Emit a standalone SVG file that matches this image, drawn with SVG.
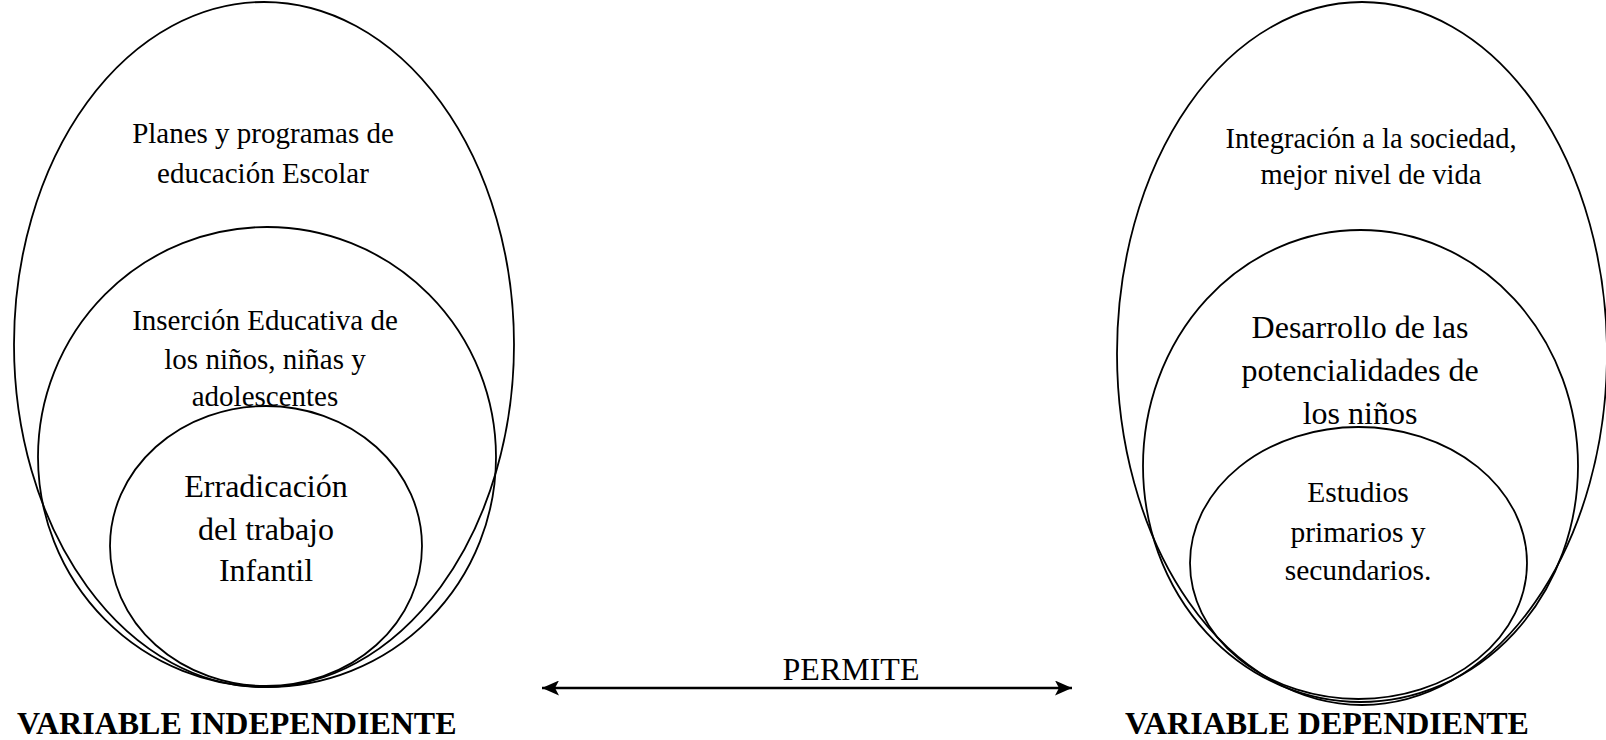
<svg xmlns="http://www.w3.org/2000/svg" width="1606" height="740" viewBox="0 0 1606 740">
<style>
.e{fill:none;stroke:#000;stroke-width:1.8}
.t{font-family:"Liberation Serif","Times New Roman",serif;fill:#000;text-anchor:middle}
.b{font-family:"Liberation Serif","Times New Roman",serif;fill:#000;font-weight:bold;font-size:32px}
</style>
<defs>
<marker id="ah" viewBox="0 0 17 15" refX="17" refY="7.5" markerWidth="17" markerHeight="15" markerUnits="userSpaceOnUse" orient="auto-start-reverse">
<path d="M0,0 L17,7.5 L0,15 L4,7.5 Z" fill="#000"/>
</marker>
</defs>
<rect width="1606" height="740" fill="#fff"/>
<g id="left-outer">
<ellipse class="e" cx="264" cy="344.5" rx="250" ry="342.5"/>
<text class="t" font-size="29" x="263" y="143">Planes y programas de</text>
<text class="t" font-size="29" x="263" y="183">educación Escolar</text>
</g>
<g id="left-middle">
<ellipse class="e" cx="267" cy="457" rx="229" ry="230"/>
<text class="t" font-size="29" x="265" y="330">Inserción Educativa de</text>
<text class="t" font-size="29" x="265" y="368.5">los niños, niñas y</text>
<text class="t" font-size="29" x="265" y="406">adolescentes</text>
</g>
<g id="left-inner">
<ellipse class="e" cx="266" cy="546" rx="156" ry="140"/>
<text class="t" font-size="32" x="266" y="497">Erradicación</text>
<text class="t" font-size="32" x="266" y="540">del trabajo</text>
<text class="t" font-size="32" x="266" y="581">Infantil</text>
</g>
<g id="right-outer">
<ellipse class="e" cx="1362" cy="353.5" rx="245" ry="351.5"/>
<text class="t" font-size="28.5" x="1371" y="148">Integración a la sociedad,</text>
<text class="t" font-size="28.5" x="1371" y="184">mejor nivel de vida</text>
</g>
<g id="right-middle">
<ellipse class="e" cx="1360.5" cy="466" rx="217.5" ry="236"/>
<text class="t" font-size="32" x="1360" y="338">Desarrollo de las</text>
<text class="t" font-size="32" x="1360" y="381">potencialidades de</text>
<text class="t" font-size="32" x="1360" y="424">los niños</text>
</g>
<g id="right-inner">
<ellipse class="e" cx="1358.5" cy="563" rx="168.5" ry="136"/>
<text class="t" font-size="29.5" x="1358" y="502">Estudios</text>
<text class="t" font-size="29.5" x="1358" y="542">primarios y</text>
<text class="t" font-size="29.5" x="1358" y="580">secundarios.</text>
</g>
<g id="connectors">
<line x1="542" y1="688" x2="1072" y2="688" stroke="#000" stroke-width="2.5" marker-start="url(#ah)" marker-end="url(#ah)"/>
<text class="t" font-size="32" x="851" y="680">PERMITE</text>
</g>
<g id="labels">
<text class="b" x="17" y="734">VARIABLE INDEPENDIENTE</text>
<text class="b" x="1125" y="734">VARIABLE DEPENDIENTE</text>
</g>
</svg>
